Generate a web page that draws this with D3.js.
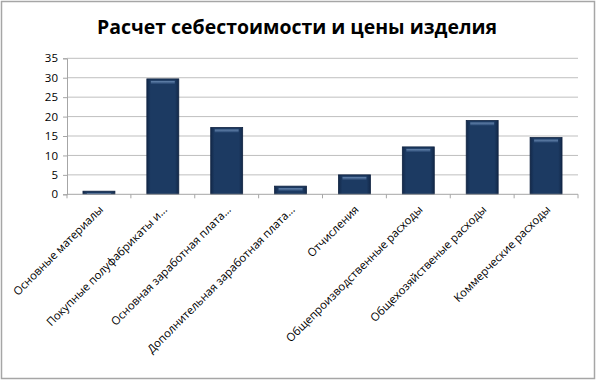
<!DOCTYPE html>
<html><head><meta charset="utf-8">
<script src="https://cdn.jsdelivr.net/npm/d3@7"></script>
<style>body{margin:0;background:#fff}svg{display:block}</style>
</head><body>
<script>
const categories = ["Основные материалы","Покупные полуфабрикаты и...","Основная заработная плата...","Дополнительная заработная плата...","Отчисления","Общепроизводственные расходы","Общехозяйственые расходы","Коммерческие расходы"];
const values = [0.8, 29.7, 17.2, 2.1, 5.0, 12.2, 19.0, 14.6];
const yTicks = [0,5,10,15,20,25,30,35];
const title = "Расчет себестоимости и цены изделия";

(function(){
const W=596,H=380;
const svg=d3.select("body").append("svg").attr("width",W).attr("height",H);
svg.append("rect").attr("x",1.5).attr("y",1.5).attr("width",W-3).attr("height",H-3).attr("fill","#fff").attr("stroke","#a6a6a6").attr("stroke-width",1.5);

const defs=svg.append("defs");
const g1=defs.append("linearGradient").attr("id","barg").attr("x1",0).attr("x2",1).attr("y1",0).attr("y2",0);
g1.append("stop").attr("offset","0").attr("stop-color","#13294a");
g1.append("stop").attr("offset","0.12").attr("stop-color","#1c3a62");
g1.append("stop").attr("offset","0.88").attr("stop-color","#1c3a62");
g1.append("stop").attr("offset","1").attr("stop-color","#13294a");
const g2=defs.append("linearGradient").attr("id","hl").attr("x1",0).attr("x2",0).attr("y1",0).attr("y2",1);
g2.append("stop").attr("offset","0").attr("stop-color","#6f8fb8");
g2.append("stop").attr("offset","1").attr("stop-color","#2a4a75");

const pl=67,pr=578,pt=58.3,pb=194.3;
const x=d3.scaleBand().domain(categories).range([pl,pr]).paddingInner(0.5).paddingOuter(0.25);
const xb=d3.scaleBand().domain(categories).range([pl,pr]);
const y=d3.scaleLinear().domain([0,35]).range([pb,pt]);

svg.append("g").selectAll("line").data(yTicks.filter(d=>d>0)).join("line")
  .attr("x1",pl).attr("x2",pr).attr("y1",d=>y(d)).attr("y2",d=>y(d))
  .attr("stroke","#bfbfbf").attr("stroke-width",1);

const ya=svg.append("g").attr("transform",`translate(${pl},0)`).call(d3.axisLeft(y).tickValues(yTicks).tickSize(4).tickPadding(5));
ya.select(".domain").attr("stroke","#a6a6a6");
ya.selectAll(".tick line").attr("stroke","#a6a6a6");
ya.selectAll("text").attr("font-family","'Open Sans',sans-serif").attr("font-size",11.5).attr("fill","#000");

const bars=svg.append("g").selectAll("g").data(categories).join("g");
bars.append("rect").attr("x",d=>x(d)).attr("width",x.bandwidth())
  .attr("y",(d,i)=>y(values[i])).attr("height",(d,i)=>pb-y(values[i]))
  .attr("fill","url(#barg)").attr("stroke","#0f2240").attr("stroke-width",0.8);
bars.append("rect").attr("x",d=>x(d)+4).attr("width",x.bandwidth()-8)
  .attr("y",(d,i)=>y(values[i])+2).attr("height",(d,i)=>Math.min(3,(pb-y(values[i]))/3))
  .attr("fill","url(#hl)").attr("opacity",0.9);

const xa=svg.append("g").attr("transform",`translate(0,${pb})`);
xa.append("line").attr("x1",pl).attr("x2",pr).attr("stroke","#a6a6a6");
xa.selectAll("line.t").data(d3.range(categories.length+1)).join("line").attr("class","t")
  .attr("x1",i=>pl+i*xb.step()).attr("x2",i=>pl+i*xb.step()).attr("y1",0).attr("y2",4).attr("stroke","#a6a6a6");
xa.selectAll("text").data(categories).join("text")
  .attr("transform",d=>`translate(${xb(d)+xb.bandwidth()/2+5},${16}) rotate(-45)`)
  .attr("text-anchor","end").attr("font-family","'Open Sans',sans-serif").attr("font-size",11.3).attr("fill","#000")
  .text(d=>d);

svg.append("text").attr("x",297).attr("y",34).attr("text-anchor","middle")
  .attr("font-family","'Open Sans',sans-serif").attr("font-weight","bold").attr("font-size",20)
  .attr("textLength",400).attr("lengthAdjust","spacingAndGlyphs").text(title);
})();
</script>
</body></html>
